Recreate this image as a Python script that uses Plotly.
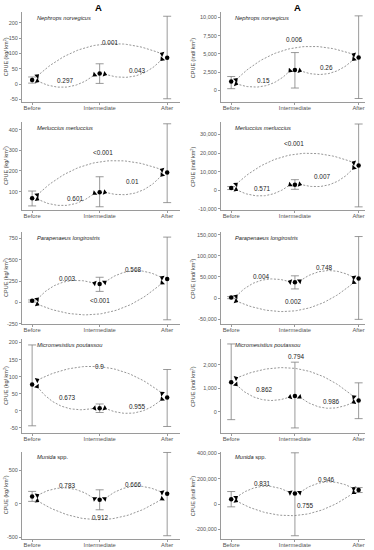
import numpy as np
import plotly.graph_objects as go

W, H = 374, 550
groups = ["Before", "Intermediate", "After"]
species_html = ["<i>Nephrops norvegicus</i>", "<i>Merluccius merluccius</i>",
                "<i>Parapenaeus longirostris</i>", "<i>Micromesistius poutassou</i>",
                "<i>Munida</i> spp."]

# ---------------- Biomass, kg / km2 (left column) ----------------
kg_mean = [[13, 34, 86], [68, 97, 193], [19, 218, 276], [77, 7.6, 39], [111, 60, 150]]
kg_lower = [[3, 2, -48], [31, 27, 47], [5, 130, -203], [-44, -5, -46], [36, -90, -480]]
kg_upper = [[23, 66, 221], [103, 172, 428], [30, 296, 767], [193, 20, 121], [186, 210, 771]]

# ---------------- Abundance, ind / km2 (right column) ----------------
ind_mean = [[1220, 2800, 4500], [1200, 3000, 13300], [1000, 37200, 46500],
            [1270, 678, 492], [39200, 84000, 112000]]
ind_lower = [[230, 320, -1120], [400, 530, -8900], [-1500, 21600, -50500],
             [-327, -680, -284], [-21000, -249000, 91800]]
ind_upper = [[1900, 5190, 10230], [2000, 5700, 35600], [3500, 52600, 145600],
             [2895, 2120, 1240], [99600, 405000, 131000]]

# ---------------- pairwise comparisons ----------------
# (start group, end group, bend: +1 arc above chord, -1 below)
pairs_rows = [
    [(0, 2, 1), (0, 1, -1), (1, 2, -1)],
    [(0, 2, 1), (0, 1, -1), (1, 2, -1)],
    [(0, 1, 1), (1, 2, 1), (0, 2, -1)],
    [(0, 2, 1), (0, 1, -1), (1, 2, -1)],
    [(0, 1, 1), (1, 2, 1), (0, 2, -1)],
]
# values at the two ends of each comparison curve
kg_arc_y = [[(26, 98), (10, 30), (32, 81)],
            [(84, 205), (64, 92), (97, 181)],
            [(38, 226), (238, 291), (-20, 230)],
            [(90, 51), (71, 7.5), (7.5, 34)],
            [(126, 75), (75, 171), (45, 75)]]
ind_arc_y = [[(1450, 4900), (900, 2700), (2700, 4280)],
             [(3200, 14800), (370, 3000), (3200, 12100)],
             [(3700, 38600), (40200, 48800), (-7000, 37200)],
             [(1440, 636), (1170, 636), (636, 424)],
             [(52500, 91800), (91800, 123000), (26000, 91800)]]
kg_p = [["0.001", "0.297", "0.043"], ["<0.001", "0.601", "0.01"], ["0.003", "0.568", "<0.001"],
        ["0.9", "0.673", "0.955"], ["0.783", "0.666", "0.912"]]
ind_p = [["0.006", "0.15", "0.26"], ["<0.001", "0.571", "0.007"], ["0.004", "0.748", "0.002"],
         ["0.794", "0.862", "0.986"], ["0.831", "0.946", "0.755"]]
# p-value label anchors (category units, data units)
kg_lab_x = [[1.15, 0.49, 1.55], [1.05, 0.64, 1.49], [0.51, 1.49, 1.0], [1.0, 0.51, 1.55], [0.51, 1.5, 1.0]]
kg_lab_y = [[136, 10, 45], [287, 68, 149], [284, 391, 26], [131, 39, 12.5], [270, 285, -200]]
ind_lab_x = [[0.99, 0.5, 1.49], [0.98, 0.48, 1.43], [0.47, 1.46, 0.97], [1.02, 0.51, 1.57], [0.49, 1.48, 1.16]]
ind_lab_y = [[6930, 1400, 3100], [25400, 1200, 7500], [51200, 71200, -9300],
             [2350, 950, 450], [162000, 196000, -7800]]

# axes
kg_range = [[-60, 235], [12, 435], [-255, 830], [-64, 210], [-530, 785]]
ind_range = [[-1660, 10770], [-10500, 36500], [-62000, 157000], [-880, 3100], [-275000, 415000]]
kg_ticks = [[-50, 0, 50, 100, 150, 200], [100, 200, 300, 400], [-250, 0, 250, 500, 750],
            [-50, 0, 50, 100, 150, 200], [-500, 0, 500]]
ind_ticks = [[0, 2500, 5000, 7500, 10000], [-10000, 0, 10000, 20000, 30000],
             [-50000, 0, 50000, 100000, 150000], [0, 1000, 2000], [-200000, 0, 200000, 400000]]

# ---------------- layout geometry (pixels) ----------------
COLS_PX = [(22, 180), (221, 365)]
ROWS_PX = [(11, 102), (122, 210), (232, 325), (340, 434), (453, 541)]
XR = [[-0.15, 2.19], [-0.16, 2.1]]
OFF = 0.075      # horizontal offset of curve ends from group centre
K = 0.16         # curvature (sagitta / chord)
AXC = "#9a9a9a"
TXC = "#555555"
FONT = "Liberation Sans, Arial, sans-serif"

fig = go.Figure()
layout = dict(width=W, height=H, margin=dict(l=0, r=0, t=0, b=0),
              plot_bgcolor="white", paper_bgcolor="white", showlegend=False,
              font=dict(family=FONT, size=6, color=TXC))
annotations = []


def geom(col, row):
    X0, X1 = COLS_PX[col]
    Y0, Y1 = ROWS_PX[row]
    yr = (kg_range if col == 0 else ind_range)[row]
    return X0, X1, Y0, Y1, XR[col], yr


def to_px(g, x, y):
    X0, X1, Y0, Y1, xr, yr = g
    return np.array([X0 + (x - xr[0]) / (xr[1] - xr[0]) * (X1 - X0),
                     Y1 - (y - yr[0]) / (yr[1] - yr[0]) * (Y1 - Y0)])


def to_data(g, px, py):
    X0, X1, Y0, Y1, xr, yr = g
    return (xr[0] + (px - X0) / (X1 - X0) * (xr[1] - xr[0]),
            yr[0] + (Y1 - py) / (Y1 - Y0) * (yr[1] - yr[0]))


k = 0
for row in range(5):
    for col in range(2):
        k += 1
        xa = "x" if k == 1 else f"x{k}"
        ya = "y" if k == 1 else f"y{k}"
        g = geom(col, row)
        X0, X1, Y0, Y1, xr, yr = g
        mean = (kg_mean if col == 0 else ind_mean)[row]
        lo = (kg_lower if col == 0 else ind_lower)[row]
        hi = (kg_upper if col == 0 else ind_upper)[row]
        arc_y = (kg_arc_y if col == 0 else ind_arc_y)[row]
        pv = (kg_p if col == 0 else ind_p)[row]
        lx = (kg_lab_x if col == 0 else ind_lab_x)[row]
        ly = (kg_lab_y if col == 0 else ind_lab_y)[row]
        ticks = (kg_ticks if col == 0 else ind_ticks)[row]

        # curves + arrow heads
        for (a, b, bend), (ya0, yb0), p, tx, ty in zip(pairs_rows[row], arc_y, pv, lx, ly):
            xs = a + (OFF if a in (0, 1) else -OFF)
            xe = b + (-OFF if b in (1, 2) else OFF)
            p0 = to_px(g, xs, ya0)
            p1 = to_px(g, xe, yb0)
            c = p1 - p0
            L = np.hypot(*c)
            m = (p0 + p1) / 2
            n = np.array([-c[1], c[0]]) / L
            if (bend > 0 and n[1] > 0) or (bend < 0 and n[1] < 0):
                n = -n
            ctrl = m + n * 2 * K * L
            t = np.linspace(0, 1, 50)[:, None]
            pts = (1 - t) ** 2 * p0 + 2 * (1 - t) * t * ctrl + t ** 2 * p1
            dx, dy = to_data(g, pts[:, 0], pts[:, 1])
            fig.add_trace(go.Scatter(x=dx, y=dy, mode="lines", xaxis=xa, yaxis=ya,
                                     line=dict(color="#8a8a8a", width=0.9, dash="2px,1.6px"),
                                     hoverinfo="skip"))
            angs = []
            for pe in (p0, p1):
                d = ctrl - pe   # heads point along the curve, away from its end
                angs.append(np.degrees(np.arctan2(d[0], -d[1])))
            fig.add_trace(go.Scatter(x=[xs, xe], y=[ya0, yb0], mode="markers", xaxis=xa, yaxis=ya,
                                     marker=dict(symbol="triangle-up", size=5, color="black",
                                                 angle=angs, line=dict(width=0)),
                                     hoverinfo="skip"))
            annotations.append(dict(x=tx, y=ty, xref=xa, yref=ya, text=p, showarrow=False,
                                    font=dict(size=6.4, color="#222222", family=FONT)))

        # means with error bars
        fig.add_trace(go.Scatter(
            x=[0, 1, 2], y=mean, mode="markers", xaxis=xa, yaxis=ya,
            marker=dict(size=4.5, color="black"),
            error_y=dict(type="data", symmetric=False,
                         array=[h - mm for h, mm in zip(hi, mean)],
                         arrayminus=[mm - l for l, mm in zip(lo, mean)],
                         color="#808080", thickness=0.8, width=4),
            hoverinfo="skip"))

        xk = "xaxis" if k == 1 else f"xaxis{k}"
        yk = "yaxis" if k == 1 else f"yaxis{k}"
        layout[xk] = dict(domain=[X0 / W, X1 / W], range=xr, anchor=ya,
                          tickvals=[0, 1, 2], ticktext=groups, showline=True, linecolor=AXC,
                          linewidth=1, ticks="outside", ticklen=2, tickcolor=AXC,
                          showgrid=False, zeroline=False, tickfont=dict(size=5.8, color=TXC),
                          ticklabelstandoff=-2, fixedrange=True)
        layout[yk] = dict(domain=[1 - Y1 / H, 1 - Y0 / H], range=yr, anchor=xa,
                          tickvals=ticks, ticktext=[f"{v:,}" for v in ticks],
                          showline=True, linecolor=AXC, linewidth=1, ticks="outside",
                          ticklen=2, tickcolor=AXC, showgrid=False, zeroline=False,
                          tickfont=dict(size=5.5, color=TXC), fixedrange=True)

        # species label
        annotations.append(dict(x=(X0 + (13 if col == 0 else 12)) / W, y=1 - (Y0 + 6) / H,
                                xref="paper", yref="paper", xanchor="left", yanchor="middle",
                                text=species_html[row], showarrow=False,
                                font=dict(size=5.7, color="#222222", family=FONT)))
        # y title
        unit = "kg" if col == 0 else "ind"
        annotations.append(dict(x=(6 if col == 0 else 193) / W, y=1 - (Y0 + Y1) / 2 / H,
                                xref="paper", yref="paper", xanchor="center", yanchor="middle",
                                text=f"CPUE ({unit}/ km<sup>2</sup>)", textangle=-90,
                                showarrow=False, font=dict(size=5.5, color="#444444", family=FONT)))

for cx in (98, 297):
    annotations.append(dict(x=cx / W, y=1 - 7 / H, xref="paper", yref="paper",
                            xanchor="center", yanchor="middle",
                            text="<b>A</b>", showarrow=False,
                            font=dict(size=9.5, color="black", family=FONT)))

layout["annotations"] = annotations
fig.update_layout(**layout)
fig.write_html("out.html", config={"displayModeBar": False},
               post_script="document.body.style.margin='0';document.body.style.padding='0';")
